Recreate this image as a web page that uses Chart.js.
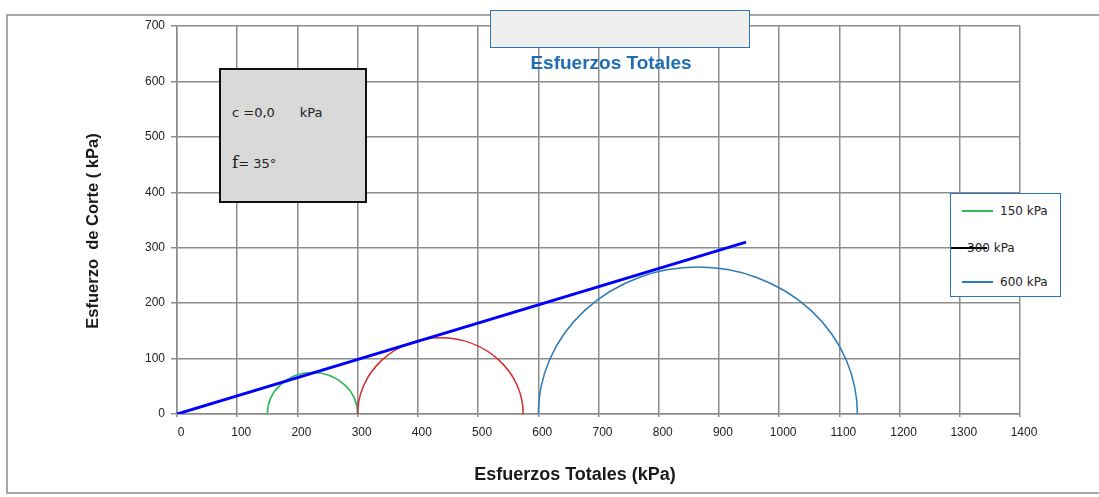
<!DOCTYPE html>
<html>
<head>
<meta charset="utf-8">
<script src="https://cdn.jsdelivr.net/npm/chart.js@4/dist/chart.umd.min.js"></script>
<style>
  body { margin: 0; background: #fff; }
  #wrap { position: relative; width: 1099px; height: 497px; overflow: hidden; font-family: "Liberation Sans", Arial, sans-serif; }
  #c { position: absolute; left: 0; top: 0; }
  .frame { position: absolute; left: 6px; top: 14px; width: 1110px; height: 480px; border: 2px solid #a6a6a6; box-sizing: border-box; }
  .titlebox { position: absolute; left: 490px; top: 10px; width: 260px; height: 38px; background: #efefef; border: 1.5px solid #2e75b6; box-sizing: border-box; }
  .title { position: absolute; left: 461px; top: 52px; width: 300px; text-align: center; font-weight: bold; font-size: 19px; line-height: 22px; color: #1f6db2; }
  .param { position: absolute; left: 219px; top: 68px; width: 148px; height: 135px; background: #d9d9d9; border: 2px solid #111; box-sizing: border-box; }
  .ptext { position: absolute; font-family: "DejaVu Sans", sans-serif; font-size: 13px; line-height: 18px; color: #222; white-space: pre; }
  .phi { font-family: "DejaVu Serif", "Liberation Serif", serif; font-size: 17px; }
  .xtitle { position: absolute; left: 375px; top: 463px; width: 400px; text-align: center; font-weight: bold; font-size: 18px; line-height: 22px; color: #1a1a1a; }
  .ytitle { position: absolute; left: -58px; top: 221px; width: 300px; height: 20px; text-align: center; font-weight: bold; font-size: 16.5px; line-height: 20px; color: #1a1a1a; transform: rotate(-90deg); transform-origin: 150px 10px; white-space: pre; }
  .legend { position: absolute; left: 950px; top: 193px; width: 111px; height: 104px; background: #fff; border: 1.5px solid #2e75b6; box-sizing: border-box; }
  .lrow { position: absolute; left: 0; width: 110px; height: 20px; }
  .lline { position: absolute; top: 9px; height: 1.5px; }
  .ltext { position: absolute; top: 1px; font-family: "DejaVu Sans", sans-serif; font-size: 12px; line-height: 18px; color: #222; white-space: nowrap; }
</style>
</head>
<body>
<div id="wrap">
  <div class="frame"></div>
  <canvas id="c" width="1099" height="497"></canvas>
  <div class="titlebox"></div>
  <div class="title">Esfuerzos Totales</div>
  <div class="param"></div>
  <div class="ptext" style="left:232px;top:104px;">c =0,0      kPa</div>
  <div class="ptext" style="left:232px;top:153px;"><span class="phi">f</span>= 35°</div>
  <div class="xtitle">Esfuerzos Totales (kPa)</div>
  <div class="ytitle">Esfuerzo  de Corte ( kPa)</div>
  <div class="legend" id="legend"></div>
</div>
<script>
// Mohr circles: confining stress (sigma3) and major stress (sigma1), kPa
const sigma3 = [150, 300, 600];
const sigma1 = [300, 575, 1130];
const seriesLabels = ['150 kPa', '300 kPa', '600 kPa'];

// failure envelope
const envelopeX = [0, 945];
const envelopeY = [0, 310];

const xTicks = [0, 100, 200, 300, 400, 500, 600, 700, 800, 900, 1000, 1100, 1200, 1300, 1400];
const yTicks = [0, 100, 200, 300, 400, 500, 600, 700];

const circleColors = ['#2db85a', '#d42a2a', '#2a7ab8'];
const legendColors = ['#2db85a', '#000000', '#2a7ab8'];
const gridColor = '#8c8c8c';

// draws each circle as the upper half of an ellipse through the chart scales
const mohrArcs = {
  id: 'mohrArcs',
  beforeDatasetsDraw(chart) {
    const {ctx, scales: {x, y}} = chart;
    chart.data.datasets.forEach(ds => {
      if (!ds.mohr) return;
      const s3 = ds.data[0].x, s1 = ds.data[1].x;
      const r = (s1 - s3) / 2;
      const cx = x.getPixelForValue(s3 + r);
      const cy = y.getPixelForValue(0);
      const rx = Math.abs(x.getPixelForValue(s1) - x.getPixelForValue(s3)) / 2;
      const ry = Math.abs(cy - y.getPixelForValue(r));
      ctx.save();
      ctx.strokeStyle = ds.borderColor;
      ctx.lineWidth = 1.5;
      ctx.beginPath();
      ctx.ellipse(cx, cy, rx, ry, 0, Math.PI, 2 * Math.PI);
      ctx.stroke();
      ctx.restore();
    });
  }
};

const circleSets = sigma3.map((s3, i) => ({
  label: seriesLabels[i],
  mohr: true,
  data: [{x: s3, y: 0}, {x: sigma1[i], y: 0}],
  borderColor: circleColors[i],
  showLine: false,
  pointRadius: 0
}));

const tickFont = { family: 'Liberation Sans', size: 12 };

const chart = new Chart(document.getElementById('c').getContext('2d'), {
  type: 'scatter',
  data: {
    datasets: [{
      label: 'Envolvente',
      data: envelopeX.map((v, i) => ({x: v, y: envelopeY[i]})),
      borderColor: '#0000ff',
      borderWidth: 3,
      showLine: true,
      pointRadius: 0
    }, ...circleSets]
  },
  options: {
    responsive: false,
    animation: false,
    devicePixelRatio: 1,
    layout: { padding: { left: 0, top: 26, right: 79, bottom: 0 } },
    plugins: { legend: { display: false }, tooltip: { enabled: false } },
    scales: {
      x: {
        type: 'linear',
        min: 0,
        max: 1400,
        afterBuildTicks: s => { s.ticks = xTicks.map(v => ({value: v})); },
        afterFit: s => { s.height = 83; },
        grid: { color: gridColor, lineWidth: 1.5, tickLength: 3 },
        border: { color: gridColor, width: 1.5 },
        ticks: { font: tickFont, color: '#222', padding: 8, labelOffset: 4, maxRotation: 0, callback: v => String(v) }
      },
      y: {
        type: 'linear',
        min: 0,
        max: 700,
        afterBuildTicks: s => { s.ticks = yTicks.map(v => ({value: v})); },
        afterFit: s => { s.width = 177; },
        grid: { color: gridColor, lineWidth: 1.5, tickLength: 6 },
        border: { color: gridColor, width: 1.5 },
        ticks: { font: tickFont, color: '#222', padding: 6, callback: v => String(v) }
      }
    }
  },
  plugins: [mohrArcs]
});

// legend box built from the circle datasets
const rowTop = [7, 44, 78];
const lineLeft = [11, 0, 11];
const lineWidth = [31, 36, 31];
const textLeft = [49, 16, 49];
const legend = document.getElementById('legend');
circleSets.forEach((ds, i) => {
  const row = document.createElement('div');
  row.className = 'lrow';
  row.style.top = rowTop[i] + 'px';
  row.innerHTML = '<div class="lline" style="left:' + lineLeft[i] + 'px;width:' + lineWidth[i] +
    'px;background:' + legendColors[i] + '"></div><div class="ltext" style="left:' + textLeft[i] + 'px">' + ds.label + '</div>';
  legend.appendChild(row);
});
</script>
</body>
</html>
